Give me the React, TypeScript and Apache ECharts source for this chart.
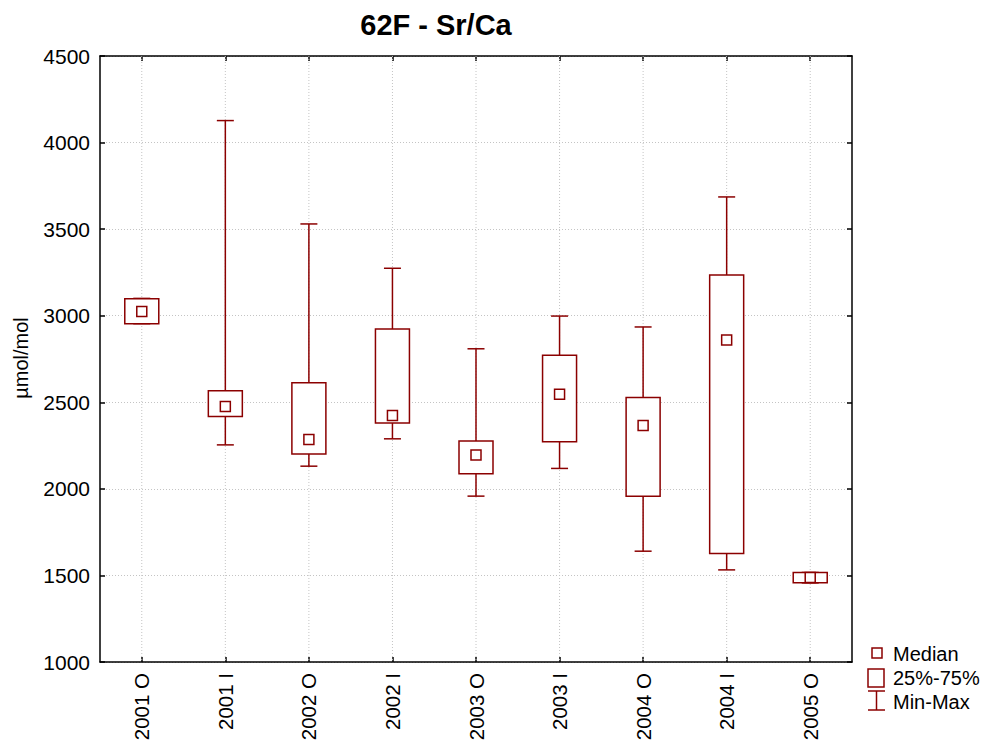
import React, { useEffect, useRef } from "react";
import * as echarts from "echarts";

const categories = ["2001 O", "2001 I", "2002 O", "2002 I", "2003 O", "2003 I", "2004 O", "2004 I", "2005 O"];
const minValues = [2954, 2254, 2131, 2289, 1958, 2118, 1640, 1532, 1457];
const q1Values = [2954, 2418, 2202, 2381, 2087, 2272, 1958, 1627, 1457];
const medianValues = [3025, 2476, 2285, 2424, 2195, 2547, 2366, 2860, 1488];
const q3Values = [3098, 2566, 2613, 2923, 2277, 2771, 2528, 3235, 1517];
const maxValues = [3100, 4127, 3530, 3274, 2809, 2998, 2935, 3686, 1517];
const yTicks = { min: 1000, max: 4500, interval: 500 };

const RED = "#8b0000";
const FONT = "Arial, 'Liberation Sans', Helvetica, sans-serif";

export default function App() {
  const ref = useRef<HTMLDivElement>(null);
  useEffect(() => {
    if (!ref.current) return;
    const chart = echarts.init(ref.current, null, { renderer: "svg" });
    const data = categories.map((c, i) => [i, minValues[i], q1Values[i], medianValues[i], q3Values[i], maxValues[i]]);
    const boxW = 34;
    const capW = 17;
    const medS = 10;
    const option: any = {
      animation: false,
      backgroundColor: "#ffffff",
      textStyle: { fontFamily: FONT },
      grid: { left: 100, right: 138, top: 56, bottom: 83, containLabel: false, outerBoundsMode: "none" },
      xAxis: [
        {
          type: "category",
          data: categories,
          position: "bottom",
          boundaryGap: true,
          axisLine: { show: true, lineStyle: { color: "#000", width: 1.5 } },
          axisTick: { show: true, inside: true, alignWithLabel: true, length: 5, lineStyle: { color: "#000", width: 1.5 } },
          axisLabel: { rotate: 90, fontSize: 20.5, color: "#000", margin: 11, fontFamily: FONT },
          splitLine: { show: false },
        },
        {
          type: "category",
          data: categories,
          position: "top",
          boundaryGap: true,
          axisLine: { show: true, lineStyle: { color: "#000", width: 1.5 } },
          axisTick: { show: true, inside: true, alignWithLabel: true, length: 5, lineStyle: { color: "#000", width: 1.5 } },
          axisLabel: { show: false },
          splitLine: { show: false },
        },
      ],
      yAxis: [
        {
          type: "value",
          min: yTicks.min,
          max: yTicks.max,
          interval: yTicks.interval,
          position: "left",
          axisLine: { show: true, lineStyle: { color: "#000", width: 1.5 } },
          axisTick: { show: true, inside: true, length: 5, lineStyle: { color: "#000", width: 1.5 } },
          axisLabel: { fontSize: 21, color: "#000", margin: 10, fontFamily: FONT, formatter: (v: number) => String(v) },
          splitLine: { show: true, lineStyle: { color: "#c4c4c4", type: [1, 2], width: 1 } },
        },
        {
          type: "value",
          min: yTicks.min,
          max: yTicks.max,
          interval: yTicks.interval,
          position: "right",
          axisLine: { show: true, lineStyle: { color: "#000", width: 1.5 } },
          axisTick: { show: true, inside: true, length: 5, lineStyle: { color: "#000", width: 1.5 } },
          axisLabel: { show: false },
          splitLine: { show: false },
        },
      ],
      series: [
        {
          type: "custom",
          xAxisIndex: 0,
          yAxisIndex: 0,
          data,
          encode: { x: 0, y: [1, 2, 3, 4, 5] },
          renderItem: (params: any, api: any) => {
            const idx = api.value(0);
            const pMin = api.coord([idx, api.value(1)]);
            const pQ1 = api.coord([idx, api.value(2)]);
            const pMed = api.coord([idx, api.value(3)]);
            const pQ3 = api.coord([idx, api.value(4)]);
            const pMax = api.coord([idx, api.value(5)]);
            const x = pMed[0];
            const cs = params.coordSys;
            const lineStyle = { stroke: RED, lineWidth: 1.5, fill: null };
            return {
              type: "group",
              children: [
                {
                  type: "line",
                  shape: { x1: x, y1: cs.y, x2: x, y2: cs.y + cs.height },
                  style: { stroke: "#c4c4c4", lineWidth: 1, lineDash: [1, 2] },
                  z2: 0,
                },
                { type: "line", shape: { x1: x, y1: pMax[1], x2: x, y2: pQ3[1] }, style: lineStyle, z2: 1 },
                { type: "line", shape: { x1: x, y1: pQ1[1], x2: x, y2: pMin[1] }, style: lineStyle, z2: 1 },
                { type: "line", shape: { x1: x - capW / 2, y1: pMax[1], x2: x + capW / 2, y2: pMax[1] }, style: lineStyle, z2: 1 },
                { type: "line", shape: { x1: x - capW / 2, y1: pMin[1], x2: x + capW / 2, y2: pMin[1] }, style: lineStyle, z2: 1 },
                {
                  type: "rect",
                  shape: { x: x - boxW / 2, y: pQ3[1], width: boxW, height: pQ1[1] - pQ3[1] },
                  style: { stroke: RED, lineWidth: 1.5, fill: "#ffffff" },
                  z2: 2,
                },
                {
                  type: "rect",
                  shape: { x: x - medS / 2, y: pMed[1] - medS / 2, width: medS, height: medS },
                  style: { stroke: RED, lineWidth: 1.5, fill: "#ffffff" },
                  z2: 3,
                },
              ],
            };
          },
        },
      ],
      graphic: [
        {
          type: "text",
          x: 436,
          y: 25,
          style: {
            text: "62F - Sr/Ca",
            font: `bold 29px ${FONT}`,
            fill: "#000",
            textAlign: "center",
            textVerticalAlign: "middle",
          },
          z: 10,
        },
        {
          type: "text",
          x: 21,
          y: 358,
          rotation: Math.PI / 2,
          style: {
            text: "µmol/mol",
            font: `20px ${FONT}`,
            fill: "#000",
            textAlign: "center",
            textVerticalAlign: "middle",
          },
          z: 10,
        },
        { type: "rect", shape: { x: 872, y: 648, width: 10, height: 10 }, style: { stroke: RED, lineWidth: 1.5, fill: "#fff" }, z: 10 },
        { type: "text", x: 893, y: 654, style: { text: "Median", font: `20px ${FONT}`, fill: "#000", textVerticalAlign: "middle" }, z: 10 },
        { type: "rect", shape: { x: 868, y: 669, width: 16, height: 18 }, style: { stroke: RED, lineWidth: 1.5, fill: "#fff" }, z: 10 },
        { type: "text", x: 893, y: 678, style: { text: "25%-75%", font: `20px ${FONT}`, fill: "#000", textVerticalAlign: "middle" }, z: 10 },
        { type: "line", shape: { x1: 868, y1: 691, x2: 885, y2: 691 }, style: { stroke: RED, lineWidth: 1.5 }, z: 10 },
        { type: "line", shape: { x1: 876.5, y1: 691, x2: 876.5, y2: 710 }, style: { stroke: RED, lineWidth: 1.5 }, z: 10 },
        { type: "line", shape: { x1: 868, y1: 710, x2: 885, y2: 710 }, style: { stroke: RED, lineWidth: 1.5 }, z: 10 },
        { type: "text", x: 893, y: 702, style: { text: "Min-Max", font: `20px ${FONT}`, fill: "#000", textVerticalAlign: "middle" }, z: 10 },
      ],
    };
    chart.setOption(option);
    return () => chart.dispose();
  }, []);
  return <div ref={ref} style={{ width: 990, height: 745, position: "absolute", left: 0, top: 0 }} />;
}
